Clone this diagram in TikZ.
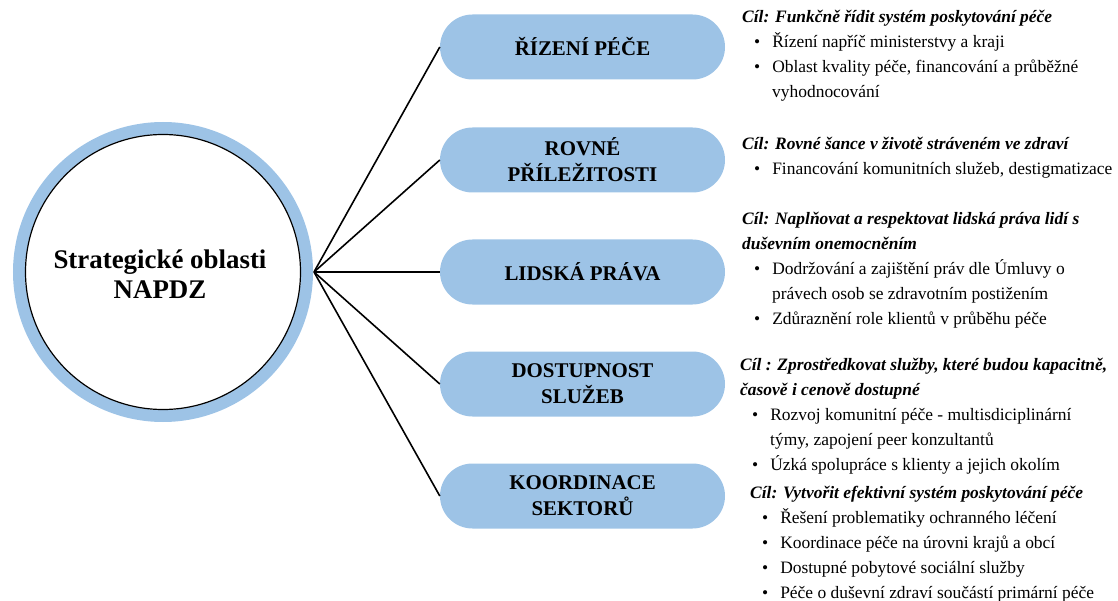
\documentclass[tikz,border=0pt]{standalone}
\usepackage{fontspec}
\newfontfamily\tnr{Liberation Serif}
\usetikzlibrary{shapes.misc}
\definecolor{pillblue}{HTML}{9DC3E6}
\newcommand\mybul{\hspace*{12bp}\textbullet\hspace{12bp}}
\newcommand\mycont{\hspace*{30bp}}
\newcommand\goaltxt[1]{\textbf{\textit{#1}}}
\begin{document}
\begin{tikzpicture}[x=1bp,y=-1bp,
  pill/.style={rounded rectangle, fill=pillblue, minimum width=285bp, minimum height=65bp,
    inner sep=0pt, align=center, font=\tnr\fontsize{21}{26}\selectfont\bfseries},
  conn/.style={line width=1.6bp, black},
  goalbox/.style={anchor=north west, inner sep=0pt, align=left, font=\tnr\fontsize{17.5}{25}\selectfont}]
\useasboundingbox (0,0) rectangle (1118,601);
% central circle
\draw[pillblue, line width=12bp] (163,272) circle[radius=144];
\node[circle, draw=black, line width=1.2bp, minimum size=275bp, inner sep=0pt] (c) at (163,272) {};
\node[align=center, font=\tnr\fontsize{27}{30}\selectfont\bfseries] (ct) at (160,274) {\tnr Strategické oblasti\\\tnr NAPDZ};
\coordinate (j) at (314,272);
% pills
\node[pill] (p1) at (582.5,47) {\tnr ŘÍZENÍ PÉČE};
\node[pill] (p2) at (582.5,160) {\tnr ROVNÉ\\\tnr PŘÍLEŽITOSTI};
\node[pill] (p3) at (582.5,272) {\tnr LIDSKÁ PRÁVA};
\node[pill] (p4) at (582.5,384) {\tnr DOSTUPNOST\\\tnr SLUŽEB};
\node[pill] (p5) at (582.5,496) {\tnr KOORDINACE\\\tnr SEKTORŮ};
\foreach \p in {p1,p2,p3,p4,p5} \draw[conn] (j) -- (\p.west);
% goals
\node[goalbox] (g1) at (742,5) {\tnr\strut\goaltxt{Cíl: Funkčně řídit systém poskytování péče}\\
\tnr\mybul Řízení napříč ministerstvy a kraji\\
\tnr\mybul Oblast kvality péče, financování a průběžné\\
\tnr\mycont vyhodnocování};
\node[goalbox] (g2) at (742,132) {\tnr\strut\goaltxt{Cíl: Rovné šance v životě stráveném ve zdraví}\\
\tnr\mybul Financování komunitních služeb, destigmatizace};
\node[goalbox] (g3) at (742,207) {\tnr\strut\goaltxt{Cíl: Naplňovat a respektovat lidská práva lidí s}\\
\tnr\goaltxt{duševním onemocněním}\\
\tnr\mybul Dodržování a zajištění práv dle Úmluvy o\\
\tnr\mycont právech osob se zdravotním postižením\\
\tnr\mybul Zdůraznění role klientů v průběhu péče};
\node[goalbox] (g4) at (740,353) {\tnr\strut\goaltxt{Cíl : Zprostředkovat služby, které budou kapacitně,}\\
\tnr\goaltxt{časově i cenově dostupné}\\
\tnr\mybul Rozvoj komunitní péče - multisdiciplinární\\
\tnr\mycont týmy, zapojení peer konzultantů\\
\tnr\mybul Úzká spolupráce s klienty a jejich okolím};
\node[goalbox] (g5) at (750,481) {\tnr\strut\goaltxt{Cíl: Vytvořit efektivní systém poskytování péče}\\
\tnr\mybul Řešení problematiky ochranného léčení\\
\tnr\mybul Koordinace péče na úrovni krajů a obcí\\
\tnr\mybul Dostupné pobytové sociální služby\\
\tnr\mybul Péče o duševní zdraví součástí primární péče};
\end{tikzpicture}
\end{document}
